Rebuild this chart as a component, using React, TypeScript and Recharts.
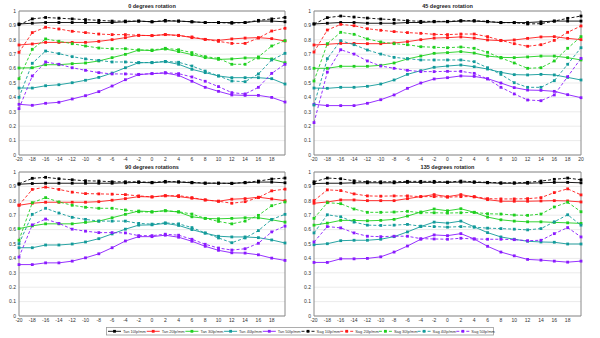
import {
  CartesianGrid,
  Line,
  LineChart,
  ReferenceLine,
  XAxis,
  YAxis,
} from "recharts";

// field position (degrees), same for every panel
const fieldPos = [-20, -18, -16, -14, -12, -10, -8, -6, -4, -2, 0, 2, 4, 6, 8, 10, 12, 14, 16, 18, 20];
const ticksShort = [-20, -18, -16, -14, -12, -10, -8, -6, -4, -2, 0, 2, 4, 6, 8, 10, 12, 14, 16, 18];
const yTicks = [0, 0.1, 0.2, 0.3, 0.4, 0.5, 0.6, 0.7, 0.8, 0.9, 1];

const freqs = ["10", "20", "30", "40", "50"];
const colors = ["#000000", "#ff1a1a", "#1fcf1f", "#129a9a", "#8a1aff"];

// 0 degrees
const rot0Tan10 = [0.91, 0.915, 0.92, 0.92, 0.92, 0.92, 0.92, 0.92, 0.925, 0.93, 0.925, 0.93, 0.93, 0.925, 0.92, 0.92, 0.92, 0.92, 0.93, 0.93, 0.925];
const rot0Sag10 = [0.905, 0.945, 0.955, 0.95, 0.945, 0.94, 0.935, 0.93, 0.93, 0.93, 0.925, 0.935, 0.93, 0.925, 0.92, 0.92, 0.915, 0.92, 0.935, 0.945, 0.955];
const rot0Tan20 = [0.764, 0.771, 0.782, 0.782, 0.782, 0.782, 0.789, 0.801, 0.815, 0.831, 0.829, 0.836, 0.831, 0.815, 0.803, 0.796, 0.806, 0.812, 0.815, 0.808, 0.792];
const rot0Sag20 = [0.713, 0.85, 0.887, 0.875, 0.859, 0.85, 0.84, 0.836, 0.836, 0.831, 0.829, 0.836, 0.829, 0.82, 0.803, 0.789, 0.775, 0.775, 0.812, 0.861, 0.88];
const rot0Tan30 = [0.604, 0.606, 0.627, 0.627, 0.634, 0.639, 0.653, 0.676, 0.699, 0.729, 0.725, 0.736, 0.718, 0.697, 0.676, 0.664, 0.667, 0.674, 0.674, 0.667, 0.641];
const rot0Sag30 = [0.53, 0.734, 0.806, 0.79, 0.773, 0.757, 0.743, 0.738, 0.738, 0.729, 0.729, 0.741, 0.731, 0.711, 0.683, 0.671, 0.63, 0.63, 0.681, 0.757, 0.794];
const rot0Tan40 = [0.465, 0.465, 0.481, 0.488, 0.502, 0.519, 0.539, 0.569, 0.606, 0.641, 0.641, 0.648, 0.63, 0.595, 0.572, 0.549, 0.537, 0.537, 0.537, 0.53, 0.493];
const rot0Sag40 = [0.4, 0.637, 0.722, 0.704, 0.683, 0.667, 0.657, 0.646, 0.646, 0.641, 0.643, 0.65, 0.644, 0.618, 0.583, 0.549, 0.514, 0.509, 0.563, 0.66, 0.706];
const rot0Tan50 = [0.352, 0.345, 0.359, 0.366, 0.389, 0.412, 0.44, 0.479, 0.523, 0.558, 0.565, 0.569, 0.553, 0.512, 0.47, 0.442, 0.417, 0.414, 0.414, 0.4, 0.368];
const rot0Sag50 = [0.322, 0.549, 0.646, 0.63, 0.606, 0.588, 0.572, 0.563, 0.563, 0.56, 0.565, 0.572, 0.565, 0.542, 0.512, 0.475, 0.433, 0.424, 0.47, 0.567, 0.63];

// 45 degrees
const rot45Tan10 = [0.91, 0.915, 0.92, 0.92, 0.915, 0.915, 0.915, 0.92, 0.92, 0.925, 0.925, 0.93, 0.93, 0.925, 0.92, 0.92, 0.92, 0.925, 0.93, 0.93, 0.93];
const rot45Sag10 = [0.91, 0.954, 0.965, 0.958, 0.951, 0.944, 0.94, 0.933, 0.928, 0.928, 0.928, 0.933, 0.933, 0.928, 0.919, 0.919, 0.91, 0.912, 0.93, 0.949, 0.965];
const rot45Tan20 = [0.764, 0.769, 0.775, 0.775, 0.773, 0.773, 0.778, 0.787, 0.801, 0.812, 0.815, 0.82, 0.812, 0.799, 0.794, 0.799, 0.81, 0.82, 0.822, 0.81, 0.801];
const rot45Sag20 = [0.715, 0.868, 0.907, 0.898, 0.877, 0.866, 0.857, 0.85, 0.845, 0.838, 0.836, 0.84, 0.84, 0.822, 0.796, 0.773, 0.755, 0.766, 0.796, 0.852, 0.896];
const rot45Tan30 = [0.602, 0.602, 0.616, 0.616, 0.616, 0.623, 0.639, 0.667, 0.687, 0.706, 0.711, 0.718, 0.708, 0.687, 0.678, 0.676, 0.681, 0.687, 0.687, 0.676, 0.66];
const rot45Sag30 = [0.514, 0.773, 0.852, 0.838, 0.806, 0.785, 0.773, 0.766, 0.752, 0.748, 0.745, 0.75, 0.741, 0.713, 0.674, 0.639, 0.602, 0.606, 0.653, 0.741, 0.822];
const rot45Tan40 = [0.465, 0.463, 0.47, 0.47, 0.477, 0.493, 0.521, 0.56, 0.586, 0.609, 0.618, 0.625, 0.613, 0.597, 0.574, 0.558, 0.556, 0.56, 0.556, 0.539, 0.521];
const rot45Sag40 = [0.347, 0.669, 0.794, 0.766, 0.729, 0.701, 0.678, 0.669, 0.66, 0.66, 0.66, 0.66, 0.648, 0.606, 0.56, 0.502, 0.47, 0.47, 0.516, 0.63, 0.745];
const rot45Tan50 = [0.352, 0.343, 0.343, 0.343, 0.359, 0.384, 0.417, 0.463, 0.5, 0.528, 0.537, 0.549, 0.546, 0.53, 0.5, 0.468, 0.451, 0.449, 0.442, 0.419, 0.398];
const rot45Sag50 = [0.225, 0.576, 0.731, 0.701, 0.653, 0.618, 0.602, 0.588, 0.579, 0.579, 0.581, 0.581, 0.567, 0.528, 0.47, 0.424, 0.382, 0.377, 0.417, 0.544, 0.671];

// 90 degrees
const rot90Tan10 = [0.915, 0.92, 0.922, 0.922, 0.922, 0.922, 0.922, 0.922, 0.925, 0.928, 0.925, 0.93, 0.93, 0.925, 0.922, 0.922, 0.922, 0.925, 0.93, 0.93, 0.925];
const rot90Sag10 = [0.918, 0.956, 0.963, 0.953, 0.946, 0.939, 0.937, 0.932, 0.932, 0.932, 0.928, 0.935, 0.932, 0.928, 0.923, 0.923, 0.92, 0.928, 0.937, 0.951, 0.958];
const rot90Tan20 = [0.769, 0.783, 0.79, 0.79, 0.79, 0.79, 0.794, 0.804, 0.815, 0.829, 0.827, 0.836, 0.829, 0.818, 0.806, 0.797, 0.811, 0.815, 0.825, 0.813, 0.801];
const rot90Sag20 = [0.77, 0.879, 0.895, 0.879, 0.86, 0.85, 0.848, 0.846, 0.843, 0.834, 0.827, 0.834, 0.836, 0.822, 0.806, 0.797, 0.783, 0.794, 0.822, 0.869, 0.881];
const rot90Tan30 = [0.607, 0.626, 0.64, 0.64, 0.64, 0.65, 0.659, 0.682, 0.706, 0.729, 0.724, 0.731, 0.722, 0.689, 0.678, 0.675, 0.678, 0.682, 0.682, 0.668, 0.652];
const rot90Sag30 = [0.526, 0.787, 0.822, 0.792, 0.769, 0.755, 0.748, 0.748, 0.736, 0.724, 0.722, 0.731, 0.724, 0.708, 0.678, 0.657, 0.64, 0.659, 0.699, 0.766, 0.792];
const rot90Tan40 = [0.474, 0.474, 0.493, 0.493, 0.5, 0.514, 0.537, 0.57, 0.603, 0.631, 0.633, 0.643, 0.629, 0.6, 0.575, 0.554, 0.549, 0.549, 0.544, 0.528, 0.507];
const rot90Sag40 = [0.502, 0.706, 0.748, 0.715, 0.685, 0.671, 0.659, 0.659, 0.659, 0.643, 0.638, 0.647, 0.64, 0.614, 0.577, 0.542, 0.509, 0.542, 0.593, 0.671, 0.706];
const rot90Tan50 = [0.357, 0.357, 0.369, 0.369, 0.381, 0.404, 0.432, 0.474, 0.521, 0.551, 0.551, 0.561, 0.547, 0.519, 0.484, 0.456, 0.439, 0.437, 0.425, 0.402, 0.386];
const rot90Sag50 = [0.409, 0.633, 0.673, 0.643, 0.603, 0.589, 0.579, 0.579, 0.577, 0.558, 0.558, 0.568, 0.561, 0.533, 0.498, 0.472, 0.458, 0.467, 0.505, 0.584, 0.624];

// 135 degrees
const rot135Tan10 = [0.92, 0.922, 0.922, 0.925, 0.925, 0.925, 0.925, 0.928, 0.928, 0.928, 0.928, 0.93, 0.928, 0.925, 0.922, 0.922, 0.922, 0.925, 0.928, 0.928, 0.925];
const rot135Sag10 = [0.932, 0.958, 0.953, 0.939, 0.932, 0.932, 0.932, 0.935, 0.935, 0.935, 0.93, 0.937, 0.932, 0.928, 0.925, 0.925, 0.928, 0.937, 0.949, 0.958, 0.946];
const rot135Tan20 = [0.783, 0.792, 0.806, 0.806, 0.801, 0.801, 0.801, 0.815, 0.829, 0.843, 0.829, 0.843, 0.827, 0.808, 0.797, 0.797, 0.797, 0.799, 0.801, 0.799, 0.792];
const rot135Sag20 = [0.801, 0.876, 0.871, 0.848, 0.834, 0.832, 0.834, 0.834, 0.829, 0.829, 0.825, 0.829, 0.829, 0.815, 0.813, 0.813, 0.815, 0.822, 0.857, 0.883, 0.841];
const rot135Tan30 = [0.631, 0.645, 0.664, 0.664, 0.661, 0.664, 0.671, 0.694, 0.722, 0.743, 0.731, 0.745, 0.72, 0.687, 0.668, 0.659, 0.654, 0.654, 0.65, 0.647, 0.643];
const rot135Sag30 = [0.678, 0.787, 0.78, 0.743, 0.72, 0.72, 0.722, 0.727, 0.717, 0.717, 0.715, 0.717, 0.72, 0.71, 0.708, 0.701, 0.699, 0.708, 0.757, 0.79, 0.724];
const rot135Tan40 = [0.495, 0.502, 0.523, 0.526, 0.526, 0.533, 0.551, 0.584, 0.621, 0.652, 0.645, 0.659, 0.619, 0.579, 0.549, 0.533, 0.519, 0.514, 0.512, 0.5, 0.5];
const rot135Sag40 = [0.577, 0.703, 0.689, 0.652, 0.631, 0.629, 0.631, 0.636, 0.624, 0.621, 0.617, 0.621, 0.617, 0.61, 0.607, 0.603, 0.598, 0.607, 0.654, 0.703, 0.631];
const rot135Tan50 = [0.372, 0.372, 0.397, 0.397, 0.4, 0.411, 0.444, 0.486, 0.533, 0.563, 0.558, 0.572, 0.535, 0.484, 0.444, 0.418, 0.393, 0.388, 0.381, 0.374, 0.381];
const rot135Sag50 = [0.514, 0.621, 0.612, 0.577, 0.554, 0.551, 0.554, 0.554, 0.537, 0.535, 0.533, 0.54, 0.535, 0.533, 0.533, 0.53, 0.523, 0.526, 0.572, 0.614, 0.549];

const FONT = "'Liberation Sans', Arial, sans-serif";
const AXIS = "#8a8a8a";

type PanelDef = {
  title: string;
  left: number;
  top: number;
  rightMargin: number;
  ticks: number[];
  tan: number[][];
  sag: number[][];
};

const panels: PanelDef[] = [
  { title: "0 degrees rotation", left: 0, top: 0, rightMargin: 15, ticks: ticksShort,
    tan: [rot0Tan10, rot0Tan20, rot0Tan30, rot0Tan40, rot0Tan50],
    sag: [rot0Sag10, rot0Sag20, rot0Sag30, rot0Sag40, rot0Sag50] },
  { title: "45 degrees rotation", left: 295, top: 0, rightMargin: 14, ticks: fieldPos,
    tan: [rot45Tan10, rot45Tan20, rot45Tan30, rot45Tan40, rot45Tan50],
    sag: [rot45Sag10, rot45Sag20, rot45Sag30, rot45Sag40, rot45Sag50] },
  { title: "90 degrees rotations", left: 0, top: 161, rightMargin: 15, ticks: ticksShort,
    tan: [rot90Tan10, rot90Tan20, rot90Tan30, rot90Tan40, rot90Tan50],
    sag: [rot90Sag10, rot90Sag20, rot90Sag30, rot90Sag40, rot90Sag50] },
  { title: "135 degrees rotation", left: 295, top: 161, rightMargin: 14, ticks: ticksShort,
    tan: [rot135Tan10, rot135Tan20, rot135Tan30, rot135Tan40, rot135Tan50],
    sag: [rot135Sag10, rot135Sag20, rot135Sag30, rot135Sag40, rot135Sag50] },
];

const squareDot = (color: string) => (p: any) => (
  <rect key={p.index} x={p.cx - 1.4} y={p.cy - 1.4} width={2.8} height={2.8} fill={color} />
);

function Panel({ def }: { def: PanelDef }) {
  const rows = fieldPos.map((x, i) => {
    const r: Record<string, number> = { x };
    freqs.forEach((f, k) => {
      r["tan" + f] = def.tan[k][i];
      r["sag" + f] = def.sag[k][i];
    });
    return r;
  });
  const tick = { fontSize: 5, fill: "#333", fontFamily: FONT };
  const plotLeft = 19;
  const plotRight = 300 - def.rightMargin;

  return (
    <div style={{ position: "absolute", left: def.left, top: def.top, width: 300, height: 170 }}>
      <div
        style={{
          position: "absolute",
          left: plotLeft,
          width: plotRight - plotLeft,
          top: 3,
          textAlign: "center",
          fontFamily: FONT,
          fontSize: 5.5,
          fontWeight: "bold",
          lineHeight: "7px",
          color: "#222",
        }}
      >
        {def.title}
      </div>
      <LineChart
        width={300}
        height={170}
        data={rows}
        margin={{ top: 11, right: def.rightMargin, bottom: 3, left: 4 }}
      >
        <CartesianGrid vertical={false} stroke="#e6e6e6" strokeWidth={0.8} />
        <XAxis
          dataKey="x"
          type="number"
          domain={[-20, 20]}
          ticks={def.ticks}
          interval={0}
          height={12}
          tickLine={false}
          tickSize={0}
          tickMargin={2}
          stroke={AXIS}
          tick={tick}
        />
        <YAxis
          domain={[0, 1]}
          ticks={yTicks}
          interval={0}
          width={15}
          tickLine={false}
          tickSize={0}
          tickMargin={3}
          stroke={AXIS}
          tick={tick}
        />
        <ReferenceLine y={1} stroke={AXIS} />
        <ReferenceLine x={20} stroke={AXIS} />
        {freqs.map((f, k) => (
          <Line
            key={"tan" + f}
            dataKey={"tan" + f}
            type="linear"
            stroke={colors[k]}
            strokeWidth={0.9}
            dot={squareDot(colors[k])}
            activeDot={false}
            isAnimationActive={false}
          />
        ))}
        {freqs.map((f, k) => (
          <Line
            key={"sag" + f}
            dataKey={"sag" + f}
            type="linear"
            stroke={colors[k]}
            strokeWidth={0.9}
            strokeDasharray="3 2"
            dot={squareDot(colors[k])}
            activeDot={false}
            isAnimationActive={false}
          />
        ))}
      </LineChart>
    </div>
  );
}

function LegendBox() {
  const entries = [
    ...freqs.map((f, k) => ({ label: `Tan ${f}lp/mm`, color: colors[k], dashed: false })),
    ...freqs.map((f, k) => ({ label: `Sag ${f}lp/mm`, color: colors[k], dashed: true })),
  ];
  const x0 = 106;
  const w = 387;
  const step = w / entries.length;
  return (
    <svg style={{ position: "absolute", left: 0, top: 325 }} width={600} height={13}>
      <rect x={x0 + 0.5} y={2.5} width={w} height={7.5} fill="#fff" stroke="#9a9a9a" strokeWidth={0.8} />
      {entries.map((e, i) => {
        const lx = x0 + 2 + i * step;
        return (
          <g key={e.label}>
            <line
              x1={lx}
              x2={lx + 13}
              y1={6.3}
              y2={6.3}
              stroke={e.color}
              strokeWidth={0.9}
              strokeDasharray={e.dashed ? "3 2" : undefined}
            />
            <rect x={lx + 5.1} y={4.9} width={2.8} height={2.8} fill={e.color} />
            <text x={lx + 15} y={7.8} fontSize={4} fontFamily={FONT} fill="#333">
              {e.label}
            </text>
          </g>
        );
      })}
    </svg>
  );
}

export default function App() {
  return (
    <div style={{ position: "absolute", left: 0, top: 0, width: 600, height: 338, background: "#fff", overflow: "hidden" }}>
      {panels.map((p) => (
        <Panel key={p.title} def={p} />
      ))}
      <LegendBox />
    </div>
  );
}
